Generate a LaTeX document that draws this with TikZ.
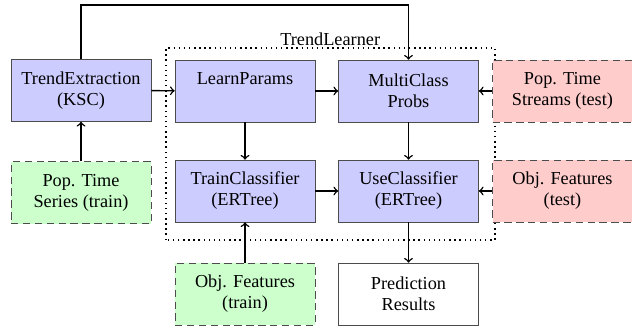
\documentclass[tikz,border=0pt]{standalone}
\usepackage{fontspec}
\setmainfont{Liberation Serif}
\usetikzlibrary{calc,shapes.geometric}

\definecolor{procblue}{HTML}{CCCCFF}
\definecolor{traingreen}{HTML}{CCFFCC}
\definecolor{testred}{HTML}{FFCCCC}

\tikzset{
	proc/.style={draw=black!70, fill=procblue, minimum width=2.69cm, minimum height=1.19cm, align=center, inner sep=2pt},
	traindata/.style={proc, fill=traingreen, dashed, dash pattern=on 4pt off 2.5pt},
	testdata/.style={proc, fill=testred, dashed, dash pattern=on 4pt off 2.5pt},
	result/.style={proc, fill=white},
	flow/.style={->, thick}
}

\begin{document}
\begin{tikzpicture}[font=\rmfamily\fontsize{10}{11.5}\selectfont]
			\useasboundingbox (0,0) rectangle (12.154,6.327);
			
			% TrendLearner frame
			\draw[dotted, thick] (3.192,1.712) rectangle (9.519,5.404);
			\node[anchor=south, inner sep=1pt] (tlname) at (6.35,5.404) {TrendLearner};
			
			\node[proc] (extr) at (1.558,4.587) {TrendExtraction\\(KSC)};
			\node[proc] (learn) at (4.712,4.577) {LearnParams\\\phantom{y}};
			\node[proc] (multi) at (7.856,4.577) {MultiClass\\Probs};
			\node[testdata] (streams) at (10.817,4.577) {Pop. Time\\Streams (test)};
			
			\node[traindata] (series) at (1.558,2.62) {Pop. Time\\Series (train)};
			\node[proc] (train) at (4.712,2.654) {TrainClassifier\\(ERTree)};
			\node[proc] (use) at (7.856,2.654) {UseClassifier\\(ERTree)};
			\node[testdata] (feattest) at (10.817,2.654) {Obj. Features\\(test)};
			
			\node[traindata] (feattrain) at (4.712,0.673) {Obj. Features\\(train)};
			\node[result] (pred) at (7.856,0.673) {Prediction\\Results};
			
			% connectors
			\draw[flow] (series) -- (extr);
			\draw[flow] (extr) -- (learn);
			\draw[flow] (extr.north) -- ++(0,1.04) -| (multi.north);
			\draw[flow] (learn) -- (multi);
			\draw[flow] (learn) -- (train);
			\draw[flow] (streams) -- (multi);
			\draw[flow] (multi) -- (use);
			\draw[flow] (train) -- (use);
			\draw[flow] (feattest) -- (use);
			\draw[flow] (feattrain) -- (train);
			\draw[flow] (use) -- (pred);
			
		\end{tikzpicture}
\end{document}
